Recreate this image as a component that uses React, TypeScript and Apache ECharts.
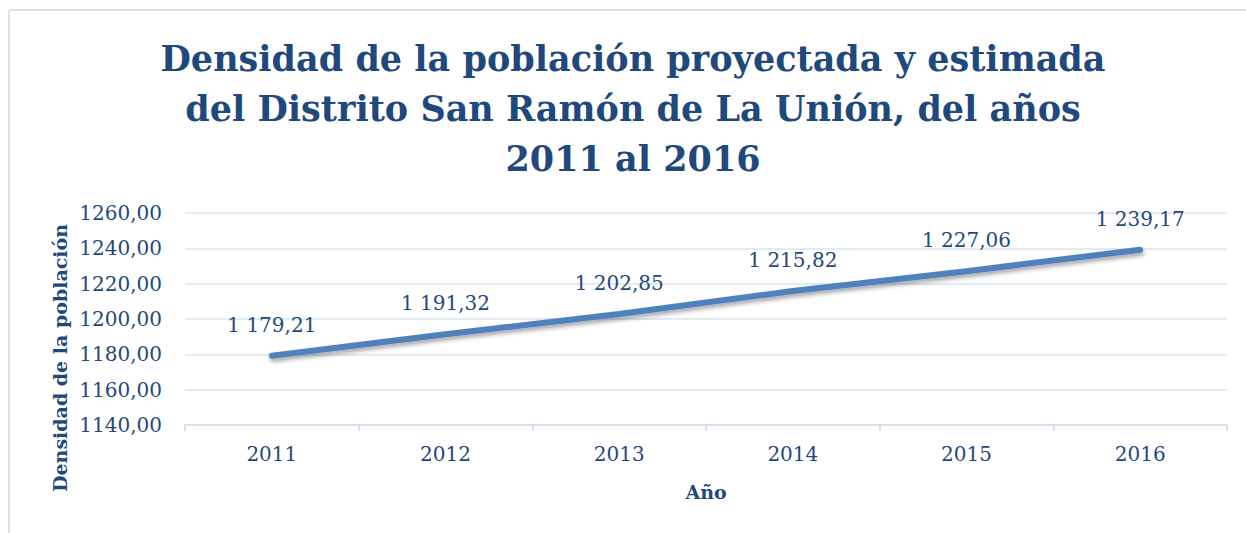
import React, { useEffect, useRef } from "react";
import * as echarts from "echarts";

const years = ["2011", "2012", "2013", "2014", "2015", "2016"];
const density = [1179.21, 1191.32, 1202.85, 1215.82, 1227.06, 1239.17];
const titleLines = [
  "Densidad de la población proyectada y estimada",
  "del Distrito San Ramón de La Unión, del años",
  "2011 al 2016",
];
const yAxisTitle = "Densidad de la población";
const xAxisTitle = "Año";

const TEXT = "#1F497D";
const GRID = "#D9E3F0";
const FONT = "'DejaVu Serif', serif";

function fmtLabel(v: number): string {
  const [i, d] = v.toFixed(2).split(".");
  const withSep = i.replace(/\B(?=(\d{3})+(?!\d))/g, " ");
  return withSep + "," + d;
}

export default function App() {
  const ref = useRef<HTMLDivElement>(null);
  useEffect(() => {
    if (!ref.current) return;
    const chart = echarts.init(ref.current, undefined, { renderer: "svg" });
    chart.setOption({
      animation: false,
      backgroundColor: "#ffffff",
      grid: { left: 185, right: 19, top: 213, bottom: 108 },
      graphic: [
        { type: "line", shape: { x1: 9, y1: 10, x2: 1246, y2: 10 }, style: { stroke: GRID, lineWidth: 2 } },
        { type: "line", shape: { x1: 9, y1: 10, x2: 9, y2: 533 }, style: { stroke: GRID, lineWidth: 2 } },
        {
          type: "text",
          x: 633,
          y: 33,
          style: {
            text: titleLines.join("\n"),
            fill: TEXT,
            font: "bold 35px 'DejaVu Serif', serif",
            lineHeight: 50,
            textAlign: "center",
            textVerticalAlign: "top",
          },
        },
        {
          type: "text",
          x: 60,
          y: 358,
          rotation: Math.PI / 2,
          style: {
            text: yAxisTitle,
            fill: TEXT,
            font: "bold 19px 'DejaVu Serif', serif",
            textAlign: "center",
            textVerticalAlign: "middle",
          },
        },
      ],
      xAxis: {
        type: "category",
        data: years,
        boundaryGap: true,
        name: xAxisTitle,
        nameLocation: "middle",
        nameGap: 57,
        nameTextStyle: { color: TEXT, fontFamily: FONT, fontWeight: "bold", fontSize: 19 },
        axisLine: { lineStyle: { color: GRID, width: 2 } },
        axisTick: { show: true, length: 6, lineStyle: { color: GRID, width: 2 } },
        axisLabel: { color: TEXT, fontFamily: FONT, fontSize: 20, margin: 19 },
      },
      yAxis: {
        type: "value",
        min: 1140,
        max: 1260,
        interval: 20,
        axisLine: { show: false },
        axisTick: { show: false },
        splitLine: { lineStyle: { color: GRID, width: 1.5 } },
        axisLabel: {
          color: TEXT,
          fontFamily: FONT,
          fontSize: 20,
          margin: 23,
          formatter: (v: number) => v.toFixed(2).replace(".", ","),
        },
      },
      series: [
        {
          type: "line",
          data: density,
          symbol: "circle",
          symbolSize: 0,
          showSymbol: true,
          itemStyle: { color: "#4F81BD" },
          lineStyle: {
            color: "#4F81BD",
            width: 6,
            cap: "round",
            shadowColor: "rgba(0,0,0,0.35)",
            shadowBlur: 4,
            shadowOffsetY: 3,
            shadowOffsetX: 1,
          },
          label: {
            show: true,
            position: "top",
            distance: 21,
            color: TEXT,
            fontFamily: FONT,
            fontSize: 20,
            formatter: (p: any) => fmtLabel(p.value),
          },
        },
      ],
    });
    return () => chart.dispose();
  }, []);
  return (
    <div
      ref={ref}
      style={{ position: "absolute", left: 0, top: 0, width: 1246, height: 533 }}
    />
  );
}
